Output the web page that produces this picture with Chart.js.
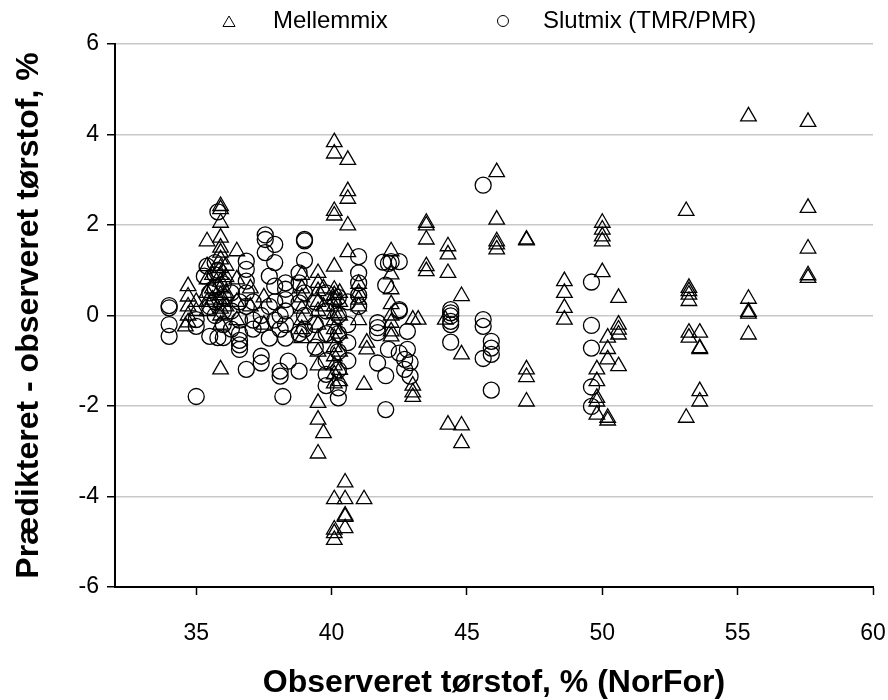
<!DOCTYPE html>
<html>
<head>
<meta charset="utf-8">
<script src="https://cdn.jsdelivr.net/npm/chart.js@4.4.1/dist/chart.umd.min.js"></script>
<style>
  html, body { margin: 0; padding: 0; background: #fff; }
  #wrap { width: 888px; height: 700px; }
</style>
</head>
<body>
<div id="wrap"><canvas id="ts-chart" width="888" height="700"></canvas></div>
<script>
// Axis setup
const xTicks = [35, 40, 45, 50, 55, 60];
const yTicks = [-6, -4, -2, 0, 2, 4, 6];

const seriesNames = ['Mellemmix', 'Slutmix (TMR/PMR)'];

// Mellemmix: [observeret tørstof, prædikteret - observeret]
const mellemmix = [
    [34.7, 0.65], [34.7, 0.42], [34.7, 0.2], [34.7, 0.0], [34.7, -0.15], [34.6, -0.24],
    [35.0, 0.3], [35.0, 0.1],
    [35.4, 1.64], [35.4, 1.09], [35.4, 0.8], [35.4, 0.5], [35.4, 0.3], [35.4, 0.1],
    [35.6, 0.9], [35.6, 0.6], [35.6, 0.35],
    [35.9, 2.42], [35.9, 2.35], [35.9, 2.05], [35.9, 1.72], [35.9, 1.5], [35.9, 1.39],
    [35.9, 1.24], [35.9, 1.05], [35.9, 0.9], [35.9, 0.75], [35.9, 0.6], [35.9, 0.45],
    [35.9, 0.3], [35.9, 0.15], [35.9, 0.0], [35.9, -0.2], [35.9, -1.19],
    [36.1, 1.1], [36.1, 0.85], [36.1, 0.5], [36.1, 0.2],
    [36.5, 1.42], [36.5, 0.8], [36.5, 0.3], [36.5, -0.1],
    [37.0, 0.6], [37.0, 0.2], [37.5, 0.4], [37.5, -0.2],
    [38.9, 0.9], [38.9, 0.6], [38.9, 0.4], [38.9, 0.15], [38.9, -0.1], [38.9, -0.3], [38.9, -0.5],
    [39.5, 0.94], [39.5, 0.72], [39.5, 0.54], [39.5, 0.3], [39.5, 0.1], [39.5, -0.2],
    [39.5, -0.5], [39.5, -0.8], [39.5, -1.1], [39.5, -1.93], [39.5, -2.3], [39.5, -3.05],
    [39.7, 0.6], [39.7, 0.2], [39.7, -2.6],
    [40.1, 3.83], [40.1, 3.58], [40.1, 2.31], [40.1, 2.21], [40.1, 1.08], [40.1, 0.57],
    [40.1, 0.45], [40.1, 0.35], [40.1, 0.2], [40.1, 0.05], [40.1, -0.1], [40.1, -0.3],
    [40.1, -0.5], [40.1, -0.7], [40.1, -0.9], [40.1, -1.1], [40.1, -1.3], [40.1, -1.5],
    [40.1, -4.06], [40.1, -4.73], [40.1, -4.81], [40.1, -4.96],
    [40.3, 0.5], [40.3, 0.3], [40.3, 0.0], [40.3, -0.4], [40.3, -0.8], [40.3, -1.2], [40.3, -1.45],
    [40.5, -3.69], [40.5, -4.06], [40.5, -4.42], [40.5, -4.45], [40.5, -4.7],
    [40.6, 3.44], [40.6, 2.75], [40.6, 2.58], [40.6, 1.99], [40.6, 1.4],
    [41.0, 0.7], [41.0, 0.5], [41.0, 0.35], [41.0, 0.2], [41.0, -0.1],
    [41.2, -1.53], [41.2, -4.06], [41.3, -0.6], [41.3, -0.75],
    [42.2, 1.42], [42.2, 0.91], [42.2, 0.58], [42.2, 0.25], [42.2, 0.0], [42.2, -0.16],
    [42.2, -0.35], [42.2, -0.46],
    [43.0, -0.09], [43.0, -1.55], [43.0, -1.7], [43.0, -1.8], [43.2, -0.09],
    [43.5, 2.05], [43.5, 1.99], [43.5, 1.68], [43.5, 1.09], [43.5, 0.98],
    [44.2, -0.09], [44.3, 1.53], [44.3, 1.35], [44.3, 0.94], [44.3, -2.41],
    [44.8, 0.43], [44.8, -0.86], [44.8, -2.43], [44.8, -2.82],
    [46.1, 3.17], [46.1, 2.12], [46.1, 1.64], [46.1, 1.57], [46.1, 1.46],
    [47.2, 1.68], [47.2, 1.66], [47.2, -1.19], [47.2, -1.36], [47.2, -1.9],
    [48.6, 0.76], [48.6, 0.5], [48.6, 0.17], [48.6, -0.09],
    [49.8, -1.19], [49.8, -1.45], [49.8, -1.82], [49.8, -1.9], [49.8, -2.19],
    [50.0, 2.05], [50.0, 1.9], [50.0, 1.75], [50.0, 1.64], [50.0, 0.96],
    [50.2, -0.49], [50.2, -0.74], [50.2, -0.97], [50.2, -2.26], [50.2, -2.32],
    [50.6, 0.39], [50.6, -0.2], [50.6, -0.31], [50.6, -0.42], [50.6, -1.12],
    [53.1, 2.31], [53.1, -2.26],
    [53.2, 0.61], [53.2, 0.54], [53.2, 0.46], [53.2, 0.32], [53.2, -0.38], [53.2, -0.49],
    [53.6, -0.38], [53.6, -0.72], [53.6, -0.74], [53.6, -1.67], [53.6, -1.9],
    [55.4, 4.4], [55.4, 0.37], [55.4, 0.08], [55.4, 0.04], [55.4, -0.42],
    [57.6, 4.28], [57.6, 2.38], [57.6, 1.48], [57.6, 0.89], [57.6, 0.83]
];

// Slutmix (TMR/PMR)
const slutmix = [
    [34.0, 0.22], [34.0, 0.17], [34.0, -0.2], [34.0, -0.46],
    [35.0, -1.79], [35.0, -0.09], [35.0, -0.24], [35.3, 0.87], [35.4, 1.09],
    [35.5, 0.5], [35.5, 0.2], [35.5, -0.46],
    [35.7, 1.17], [35.7, 0.9], [35.7, 0.6], [35.7, 0.3], [35.7, 0.0],
    [35.8, 2.29], [35.8, 1.0], [35.8, -0.49],
    [36.0, 0.7], [36.0, 0.4], [36.0, 0.1], [36.0, -0.2], [36.0, -0.49],
    [36.3, 0.5], [36.3, 0.1], [36.3, -0.3],
    [36.6, 0.3], [36.6, -0.1], [36.6, -0.4], [36.6, -0.55], [36.6, -0.65], [36.6, -0.75],
    [36.85, 1.2], [36.85, 1.02], [36.85, 0.76], [36.85, 0.5], [36.85, 0.2], [36.85, -1.19],
    [37.1, 0.3], [37.1, -0.1], [37.1, -0.3],
    [37.4, 0.0], [37.4, -0.2], [37.4, -0.9], [37.4, -1.05],
    [37.55, 1.78], [37.55, 1.68], [37.55, 1.39],
    [37.7, 0.87], [37.7, 0.2], [37.7, -0.5],
    [37.9, 1.57], [37.9, 1.17], [37.9, 0.65], [37.9, 0.3], [37.9, -0.1],
    [38.1, 0.0], [38.1, -0.3], [38.1, -1.23], [38.1, -1.34], [38.2, -1.79],
    [38.3, 0.72], [38.3, 0.58], [38.3, 0.35], [38.3, 0.1], [38.3, -0.2], [38.3, -0.5],
    [38.4, -1.01],
    [38.8, 0.94], [38.8, 0.72], [38.8, 0.28], [38.8, -0.4], [38.8, -1.23],
    [39.0, 1.68], [39.0, 1.65], [39.0, 1.22], [39.0, 0.5], [39.0, 0.0], [39.0, -0.3],
    [39.4, 0.3], [39.4, -0.2], [39.4, -0.7],
    [39.8, 0.5], [39.8, 0.1], [39.8, -0.4], [39.8, -1.0], [39.8, -1.3], [39.8, -1.55],
    [40.25, 0.4], [40.25, 0.0], [40.25, -0.4], [40.25, -0.8], [40.25, -1.2], [40.25, -1.6], [40.25, -1.82],
    [40.6, 0.3], [40.6, -0.2], [40.6, -0.6], [40.6, -1.0],
    [41.0, 1.3], [41.0, 0.94], [41.0, 0.72], [41.0, 0.45], [41.0, 0.2],
    [41.7, -0.16], [41.7, -0.27], [41.7, -0.38], [41.7, -1.05],
    [41.9, 1.18], [42.0, 0.67], [42.0, -1.33], [42.0, -2.08],
    [42.1, 1.15], [42.1, -0.75], [42.2, 1.19],
    [42.5, 1.19], [42.5, 0.13], [42.5, 0.1], [42.5, -0.83],
    [42.7, -0.97], [42.7, -1.19], [42.8, -0.35], [42.8, -0.75], [42.9, -1.04], [42.9, -1.34],
    [44.4, 0.13], [44.4, 0.06], [44.4, -0.01], [44.4, -0.13], [44.4, -0.2], [44.4, -0.59],
    [45.6, 2.88], [45.6, -0.09], [45.6, -0.24], [45.6, -0.95],
    [45.9, -0.57], [45.9, -0.72], [45.9, -0.86], [45.9, -1.65],
    [49.6, 0.74], [49.6, -0.22], [49.6, -0.72], [49.6, -1.58], [49.6, -2.01]
];

const FONT = 'Arial, "Liberation Sans", sans-serif';

const toPoints = rows => rows.map(([x, y]) => ({ x, y }));

// Legend row above the plot, open symbol + text for each series
const topLegend = {
    id: 'topLegend',
    afterDraw(chart) {
        const ctx = chart.ctx;
        const items = [
            { sym: 229, text: 273, ds: 0, r: 7 },
            { sym: 503, text: 543, ds: 1, r: 5.5 }
        ];
        const y = 21;
        ctx.save();
        items.forEach(it => {
            const ds = chart.data.datasets[it.ds];
            ctx.strokeStyle = '#000';
            ctx.fillStyle = 'rgba(0,0,0,0)';
            ctx.lineWidth = 1;
            Chart.helpers.drawPoint(ctx, {
                pointStyle: ds.pointStyle,
                radius: it.r,
                borderWidth: 1
            }, it.sym, it.ds === 0 ? y + 2 : y);
            ctx.fillStyle = '#000';
            ctx.font = '24px ' + FONT;
            ctx.textAlign = 'left';
            ctx.textBaseline = 'middle';
            ctx.fillText(seriesNames[it.ds], it.text, y);
        });
        ctx.restore();
    }
};

new Chart(document.getElementById('ts-chart'), {
    type: 'scatter',
    data: {
        datasets: [{
            label: seriesNames[0],
            data: toPoints(mellemmix),
            pointStyle: 'triangle',
            pointRadius: 9,
            pointBorderWidth: 1.3,
            borderColor: '#000',
            backgroundColor: 'rgba(0,0,0,0)'
        }, {
            label: seriesNames[1],
            data: toPoints(slutmix),
            pointStyle: 'circle',
            pointRadius: 8,
            pointBorderWidth: 1.3,
            borderColor: '#000',
            backgroundColor: 'rgba(0,0,0,0)'
        }]
    },
    options: {
        responsive: false,
        animation: false,
        layout: { padding: { top: 44, right: 15, left: 0, bottom: 0 } },
        plugins: {
            legend: { display: false },
            tooltip: { enabled: false }
        },
        scales: {
            x: {
                type: 'linear',
                min: 32,
                max: 60,
                afterBuildTicks: axis => { axis.ticks = xTicks.map(v => ({ value: v })); },
                afterFit: axis => {
                    axis.height = 113;
                    // "60" may hang past the plot edge, keep the right margin fixed
                    axis.paddingRight = 15;
                },
                border: { color: '#000', width: 2 },
                grid: { drawOnChartArea: false, tickColor: '#000', tickLength: 8, tickWidth: 1.5 },
                ticks: { color: '#000', font: { family: FONT, size: 23, lineHeight: 1 }, padding: 27, maxRotation: 0 },
                title: {
                    display: true,
                    text: 'Observeret tørstof, % (NorFor)',
                    color: '#000',
                    font: { family: FONT, size: 32, weight: 'bold', lineHeight: 1 },
                    padding: { top: 0, bottom: 1 }
                }
            },
            y: {
                min: -6,
                max: 6,
                afterBuildTicks: axis => { axis.ticks = yTicks.map(v => ({ value: v })); },
                afterFit: axis => { axis.width = 115; },
                border: { color: '#000', width: 2 },
                grid: { color: '#c8c8c8', lineWidth: 1.5, tickColor: '#000', tickLength: 8, tickWidth: 1.5 },
                ticks: { color: '#000', font: { family: FONT, size: 23, lineHeight: 1 }, padding: 8 },
                title: {
                    display: true,
                    text: 'Prædikteret - observeret tørstof, %',
                    color: '#000',
                    font: { family: FONT, size: 32, weight: 'bold', lineHeight: 1 },
                    padding: { top: 13, bottom: 0 }
                }
            }
        }
    },
    plugins: [topLegend]
});
</script>
</body>
</html>
